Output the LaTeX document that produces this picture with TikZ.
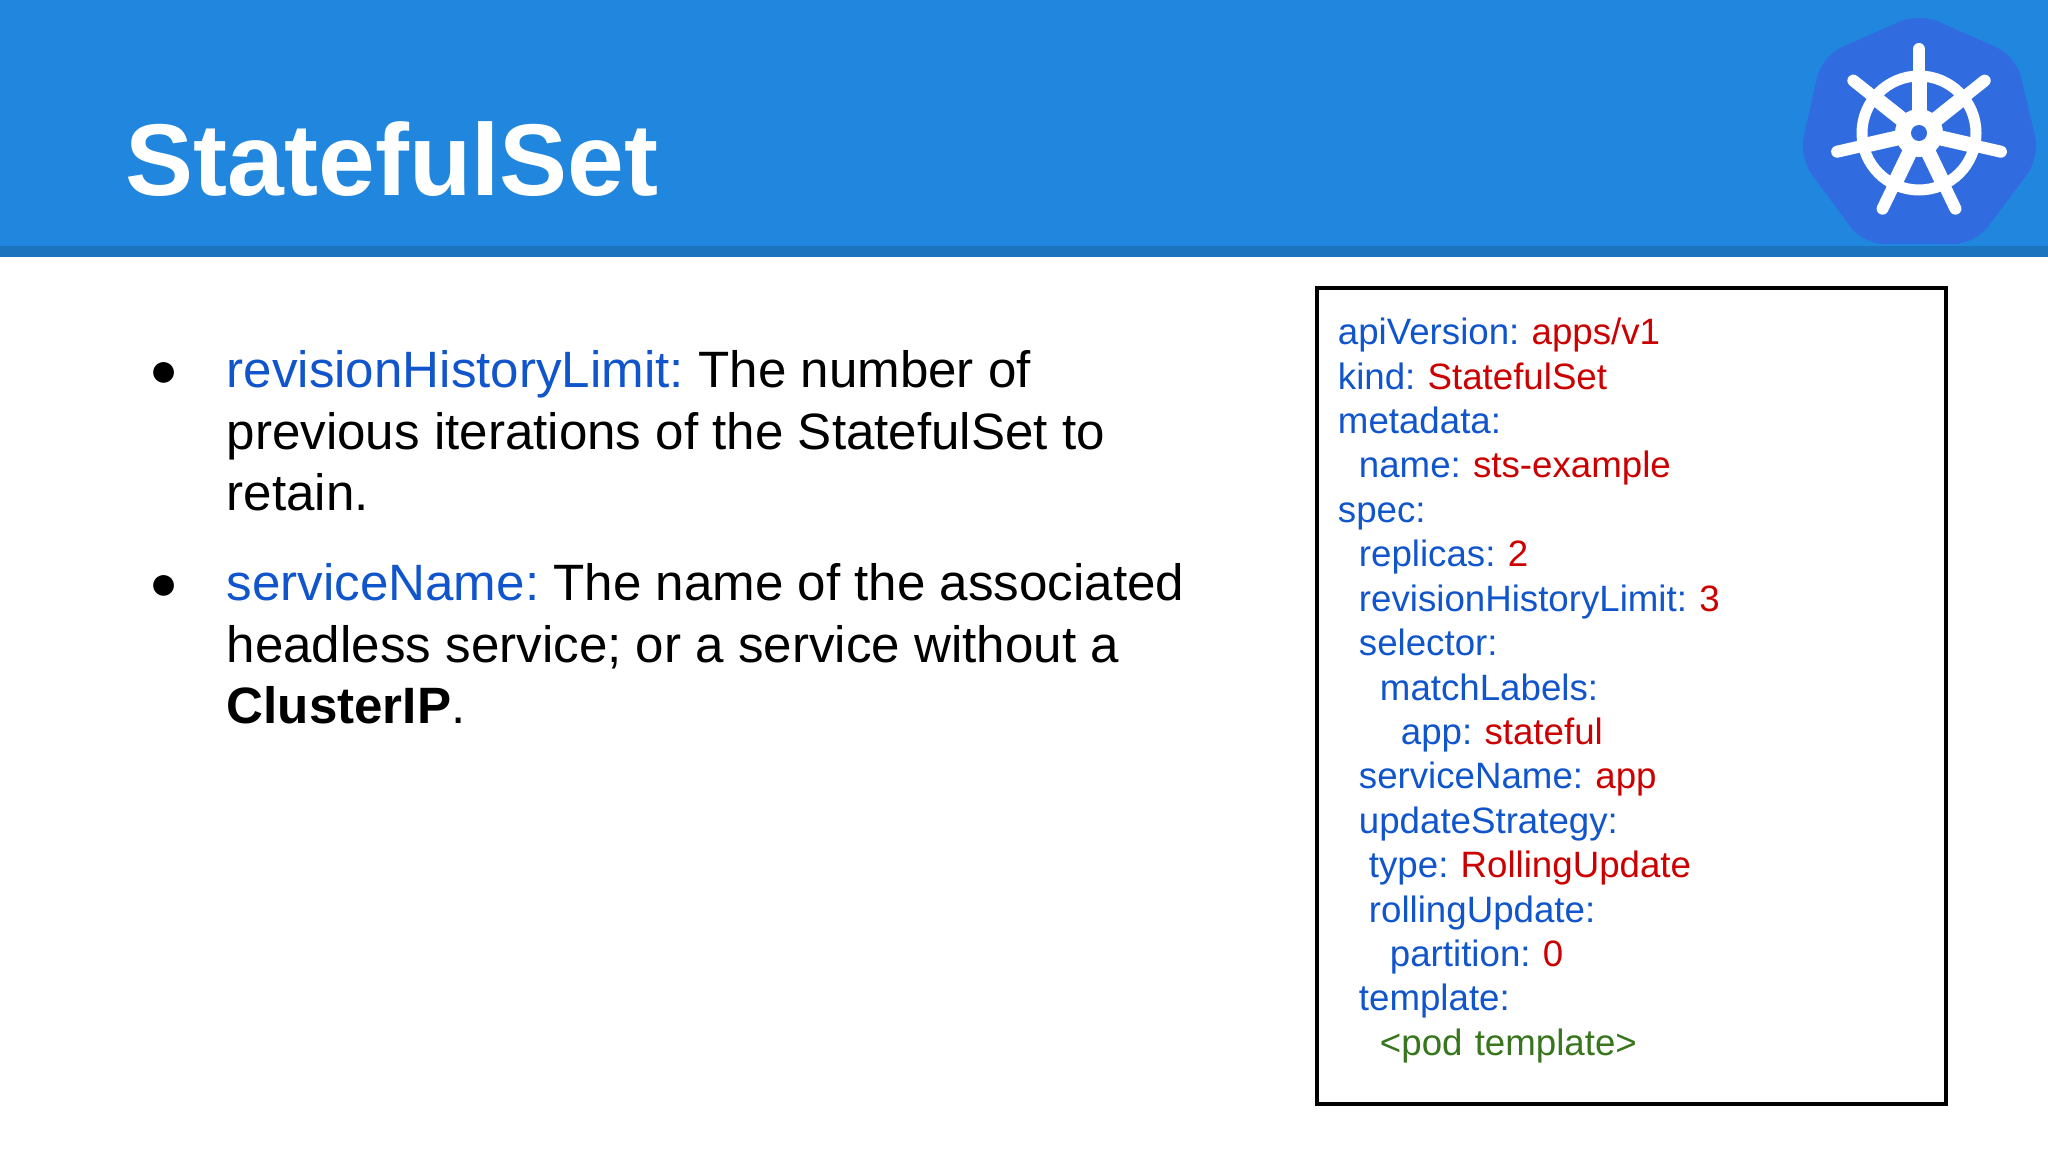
\documentclass[tikz,border=0pt]{standalone}
\usepackage{fontspec}
\setmainfont{Liberation Sans}
\frenchspacing
\definecolor{headblue}{HTML}{2186DD}
\definecolor{bandblue}{HTML}{1C74BE}
\definecolor{logoblue}{HTML}{306CDF}
\definecolor{keyblue}{HTML}{1155CC}
\definecolor{valred}{HTML}{CC0000}
\definecolor{podgreen}{HTML}{38761D}
\newcommand{\ky}[1]{\textcolor{keyblue}{#1}}
\newcommand{\vl}[1]{\textcolor{valred}{#1}}
\newlength{\pxu}
\setlength{\pxu}{0.01cm}
\tikzset{
  bodytext/.style={anchor=north west,align=left,inner sep=0pt,font=\fontsize{14.54pt}{17.47pt}\selectfont},
  bullettext/.style={anchor=center,inner sep=0pt,font=\fontsize{13.7pt}{17.47pt}\selectfont},
  codebox/.style={draw=black,line width=1.1pt,anchor=north west,align=left,inner xsep=21\pxu,inner ysep=10\pxu,text width=587\pxu,minimum height=816\pxu,font=\fontsize{10.43pt}{12.63pt}\selectfont},
  wheelspoke/.style={white,line width=15\pxu},
  wheelhandle/.style={white,line width=12\pxu,line cap=round},
}
\begin{document}
\begin{tikzpicture}[x=0.01cm,y=-0.01cm]
\useasboundingbox (0,0) rectangle (2048,1152);
\fill[white] (0,0) rectangle (2048,1152);
\fill[headblue] (0,0) rectangle (2048,246);
\fill[bandblue] (0,246) rectangle (2048,257);
\node[anchor=base west,inner sep=0pt,text=white,font=\fontsize{29pt}{34pt}\selectfont\bfseries] (title) at (125,196) {StatefulSet};
\fill[logoblue,rounded corners=6] (1919,13) -- (2016,56) -- (2040,157) -- (1975,244) -- (1863,244) -- (1799,157) -- (1822,56) -- cycle;
\draw[white,line width=11\pxu] (1919,133) circle [radius=57];
\foreach \a in {90,38.57,-12.86,-64.29,-115.71,-167.14,141.43}
  {\draw[wheelhandle] (1919,133) -- ++(-\a:84);
   \draw[wheelspoke] (1919,133) -- ++(-\a:55);}
\fill[white] (1919,133) circle [radius=24];
\fill[logoblue] (1919,133) circle [radius=8];
\node[bullettext] (bulletone) at (164,375) {●};
\node[bodytext] (revision) at (226,350) {\ky{revisionHistoryLimit:} The number of\\previous iterations of the StatefulSet to\\retain.};
\node[bullettext] (bullettwo) at (164,588) {●};
\node[bodytext] (service) at (226,563) {\ky{serviceName:} The name of the associated\\headless service; or a service without a\\\textbf{ClusterIP}.};
\node[codebox] (code) at (1315,286) {\ky{apiVersion:} \vl{apps/v1}\\
\ky{kind:} \vl{StatefulSet}\\
\ky{metadata:}\\
\hspace*{21\pxu}\ky{name:} \vl{sts-example}\\
\ky{spec:}\\
\hspace*{21\pxu}\ky{replicas:} \vl{2}\\
\hspace*{21\pxu}\ky{revisionHistoryLimit:} \vl{3}\\
\hspace*{21\pxu}\ky{selector:}\\
\hspace*{42\pxu}\ky{matchLabels:}\\
\hspace*{63\pxu}\ky{app:} \vl{stateful}\\
\hspace*{21\pxu}\ky{serviceName:} \vl{app}\\
\hspace*{21\pxu}\ky{updateStrategy:}\\
\hspace*{31\pxu}\ky{type:} \vl{RollingUpdate}\\
\hspace*{31\pxu}\ky{rollingUpdate:}\\
\hspace*{52\pxu}\ky{partition:} \vl{0}\\
\hspace*{21\pxu}\ky{template:}\\
\hspace*{42\pxu}\textcolor{podgreen}{<pod template>}\\[-26\pxu]\mbox{}};
\end{tikzpicture}
\end{document}
